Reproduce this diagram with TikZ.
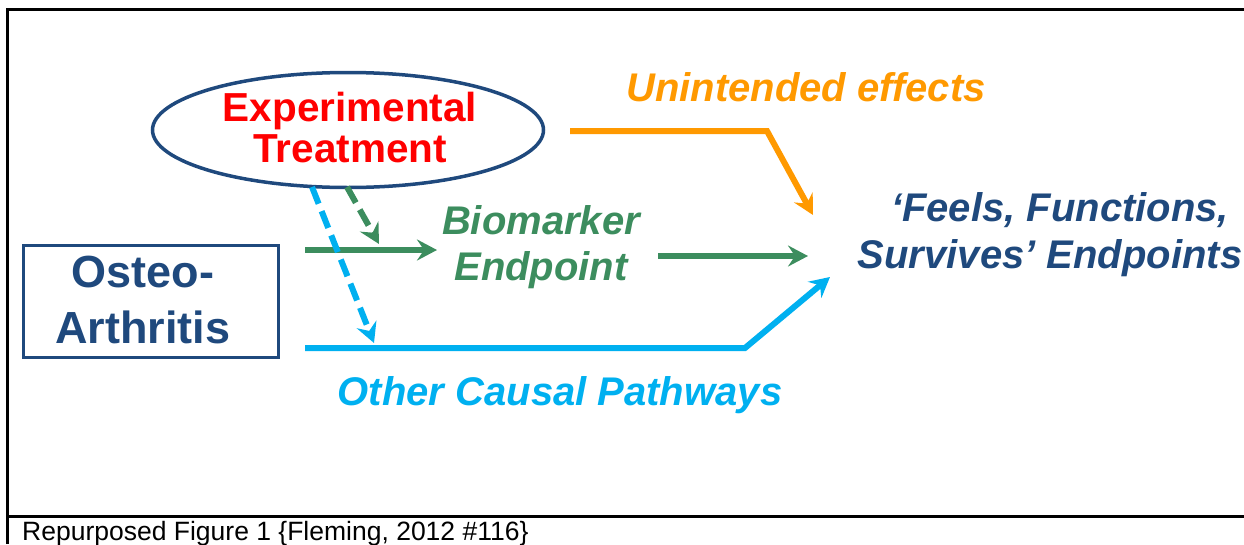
\documentclass[tikz,border=0pt]{standalone}
\usepackage{fontspec}
\setmainfont{Liberation Sans}
\usetikzlibrary{arrows.meta,shapes.geometric}
\definecolor{navy}{HTML}{1F497D}
\definecolor{tgreen}{HTML}{3C8D5E}
\definecolor{torange}{HTML}{FF9900}
\definecolor{tcyan}{HTML}{00B0F0}
\definecolor{tred}{HTML}{FF0000}
\tikzset{
  frameline/.style={line width=3pt,black},
  conn/.style={line width=6pt,-{Stealth[length=20pt,width=21pt,inset=7pt]}},
  dashconn/.style={conn,dash pattern=on 18pt off 8pt},
  bigtext/.style={inner sep=0pt,font=\fontsize{40}{41}\selectfont\bfseries\itshape},
}
\begin{document}
\begin{tikzpicture}[x=1pt,y=-1pt]
\useasboundingbox (0,0) rectangle (1244,544);
% frame
\draw[frameline] (7,544) -- (7,9) -- (1244,9);
\draw[frameline] (7,516) -- (1244,516);
% nodes
\node[ellipse,draw=navy,line width=3.5pt,minimum width=391pt,minimum height=115pt,inner sep=0pt] (treat) at (348,130) {};
\node[inner sep=0pt,text=tred,align=center,font=\fontsize{40.5}{41}\selectfont\bfseries] (treattext) at (350,128) {Experimental\\Treatment};
\node[draw=navy,line width=3pt,minimum width=255pt,minimum height=112pt,inner sep=0pt] (oa) at (150.5,301) {};
\node[inner sep=0pt,text=navy,align=center,font=\fontsize{45}{56}\selectfont\bfseries] (oatext) at (143,300) {Osteo-\\Arthritis};
\node[bigtext,text=tgreen,align=center,font=\fontsize{40}{46}\selectfont\bfseries\itshape] (bio) at (541,247) {Biomarker\\Endpoint};
\node[bigtext,text=navy,align=center,font=\fontsize{40}{47}\selectfont\bfseries\itshape] (ffs) at (1050,234.5) {\hspace*{20pt}‘Feels, Functions,\\Survives’ Endpoints};
\node[bigtext,text=torange,anchor=base] (unint) at (806,101) {Unintended effects};
\node[bigtext,text=tcyan,anchor=base] (other) at (560,405) {Other Causal Pathways};
\node[inner sep=0pt,anchor=base west,font=\fontsize{26.5}{28}\selectfont] (cap) at (22,540) {Repurposed Figure 1 \{Fleming, 2012 \#116\}};
% connector end points
\coordinate (g1s) at (305,250);
\coordinate (g1e) at (437,250);
\coordinate (g2s) at (658,256);
\coordinate (g2e) at (808,256);
\coordinate (o1s) at (570,131);
\coordinate (o1m) at (767,131);
\coordinate (o1e) at (813,215);
\coordinate (c1s) at (305,348);
\coordinate (c1m) at (745,348);
\coordinate (c1e) at (830,277);
\coordinate (cds) at (312,187);
\coordinate (cde) at (374,343);
\coordinate (gds) at (347,187);
\coordinate (gde) at (379,244);
% connectors
\draw[conn,tgreen] (g1s) -- (g1e);
\draw[conn,tgreen] (g2s) -- (g2e);
\draw[conn,torange] (o1s) -- (o1m) -- (o1e);
\draw[conn,tcyan] (c1s) -- (c1m) -- (c1e);
\draw[dashconn,tcyan] (cds) -- (cde);
\draw[dashconn,tgreen] (gds) -- (gde);
\end{tikzpicture}
\end{document}
